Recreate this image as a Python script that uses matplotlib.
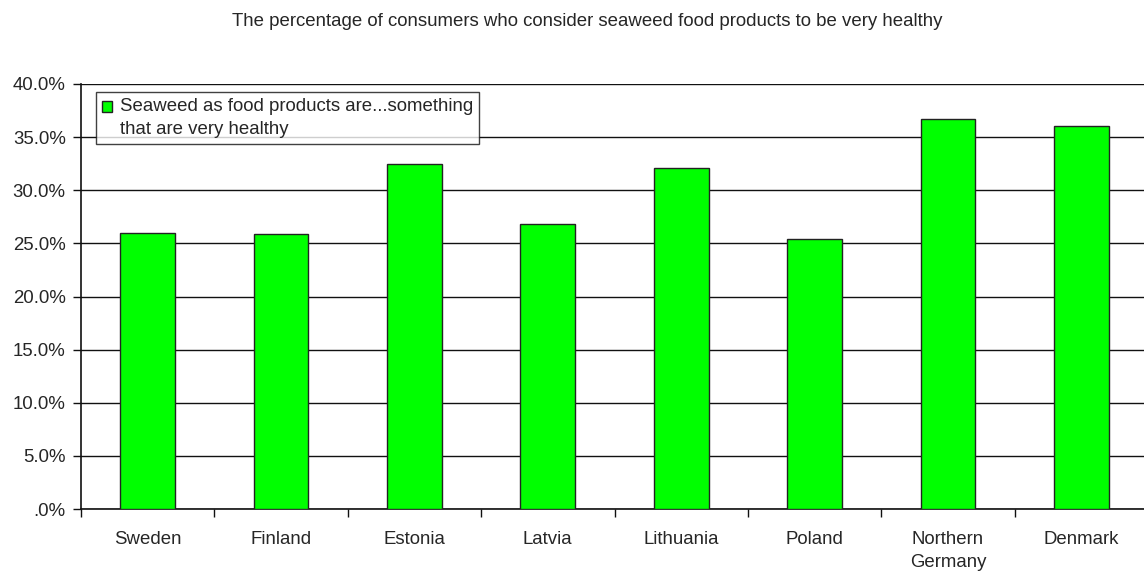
import matplotlib
matplotlib.use("Agg")
import matplotlib.pyplot as plt
from matplotlib.ticker import FuncFormatter, FixedLocator
from matplotlib.patches import Patch, Rectangle
from matplotlib.legend_handler import HandlerPatch

categories = ["Sweden", "Finland", "Estonia", "Latvia", "Lithuania", "Poland", "Northern\nGermany", "Denmark"]
values = [26.0, 25.85, 32.45, 26.8, 32.05, 25.45, 36.7, 36.05]
yticks = [0, 5, 10, 15, 20, 25, 30, 35, 40]
title = "The percentage of consumers who consider seaweed food products to be very healthy"
legend_label = "Seaweed as food products are...something\nthat are very healthy"

plt.rcParams['font.family'] = ['Liberation Sans', 'DejaVu Sans']
txt = "#262626"
fs = 13.4

fig = plt.figure(figsize=(11.44, 5.72), dpi=100)
ax = fig.add_axes([81/1144, 1-509/572, (1148-81)/1144, (509-84)/572])

x = list(range(len(categories)))
ax.bar(x, values, width=0.41, color="#00ff00", edgecolor="#222222", linewidth=1.0, zorder=3)
ax.set_xlim(-0.5, len(categories) - 0.5)
ax.set_ylim(0, 40)
ax.set_yticks(yticks)
ax.yaxis.set_major_formatter(FuncFormatter(lambda v, p: ".0%" if v == 0 else f"{v:.1f}%"))
ax.grid(axis="y", color="#111111", linewidth=1.0, zorder=1)
ax.set_xticks(x)
ax.set_xticklabels(categories, linespacing=1.42)
ax.xaxis.set_minor_locator(FixedLocator([i + 0.5 for i in range(-1, len(categories))]))
ax.tick_params(axis="x", which="major", length=0, pad=16, labelsize=fs, labelcolor=txt)
ax.tick_params(axis="x", which="minor", length=6, width=1, color="#111111", direction="out")
ax.tick_params(axis="y", length=6, width=1, color="#111111", labelsize=fs, labelcolor=txt, pad=5)
for s in ["top", "right"]:
    ax.spines[s].set_visible(False)
for s in ["left", "bottom"]:
    ax.spines[s].set_color("#111111")
    ax.spines[s].set_linewidth(1.2)

fig.text(587/1144, 1-22/572, title, ha="center", va="center", fontsize=fs, color=txt)


def top_square(legend, orig_handle, xdescent, ydescent, width, height, fontsize):
    return Rectangle((-xdescent, -ydescent + 0.62 * fontsize), width, height)


handle = Patch(facecolor="#00ff00", edgecolor="#222222", linewidth=1.0)
leg = ax.legend([handle], [legend_label], loc="upper left", bbox_to_anchor=(15/1067, 1-8/425),
                frameon=True, fancybox=False, fontsize=fs, handlelength=0.55, handleheight=0.55,
                handletextpad=0.45, borderpad=0.3, borderaxespad=0, labelcolor=txt,
                handler_map={Patch: HandlerPatch(patch_func=top_square)})
leg.get_texts()[0].set_linespacing(1.5)
leg.get_frame().set_edgecolor("#111111")
leg.get_frame().set_linewidth(1.0)
leg.set_zorder(5)

fig.savefig("out.png", dpi=100, facecolor="white")
